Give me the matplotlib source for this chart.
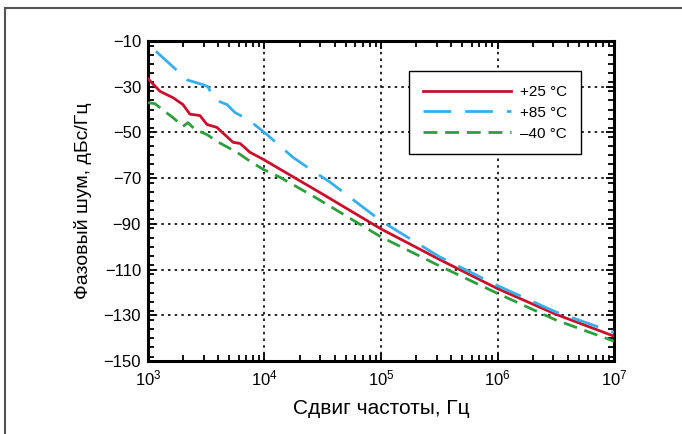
import matplotlib
matplotlib.use("Agg")
import matplotlib.pyplot as plt
from matplotlib.lines import Line2D
from matplotlib.ticker import LogLocator, MultipleLocator

plt.rcParams['font.family'] = ['Liberation Sans', 'DejaVu Sans']

# +25 °C
f_25 = [1000, 1268, 1640, 1995, 2290, 2793, 3206, 3906, 5370, 6170, 7520, 9710,
        31600, 100000, 316000, 1000000, 3160000, 10000000]
n_25 = [-26.5, -32, -34.8, -37.8, -42, -42.6, -46.5, -47.8, -54.3, -54.8, -58.7, -61.7,
        -77, -92.2, -105.5, -118.3, -129.5, -139.1]
# +85 °C
f_85 = [1170, 1640, 2163, 2965, 3275, 3500, 3760, 4766, 5580, 7210, 10500, 13060,
        17580, 24550, 36480, 100000, 316000, 1000000, 3160000, 10000000]
n_85 = [-14.5, -21.3, -27, -29.1, -30, -33, -35.7, -37.8, -41.3, -44.3, -50.9, -55.2,
        -60.9, -66, -71.7, -88.7, -104.3, -117, -128.5, -137.5]
# -40 °C
f_40 = [1000, 1148, 1400, 1640, 1995, 2203, 2530, 3206, 3906, 5808, 7520, 9710,
        13580, 26060, 100000, 316000, 1000000, 3160000, 10000000]
n_40 = [-37, -37.4, -40.9, -43.5, -47.4, -45.7, -48.7, -50.9, -53.9, -58.7, -62.6, -66.1,
        -69.6, -77.8, -95.7, -108.3, -120.4, -132, -141.3]

labels = ['+25 °C', '+85 °C', '–40 °C']
colors = ['#c8102e', '#3aaee8', '#2e9e3e']

fig = plt.figure(figsize=(6.82, 4.34), dpi=100)
ax = fig.add_axes([0.217, 0.168, 0.6833, 0.7375])

ax.plot(f_25, n_25, color=colors[0], lw=2.0, label=labels[0], zorder=3)
ax.plot(f_85, n_85, color=colors[1], lw=2.0, ls=(0, (10, 5)), label=labels[1], zorder=3)
ax.plot(f_40, n_40, color=colors[2], lw=2.0, ls=(0, (5, 2.8)), label=labels[2], zorder=3)

ax.set_xscale('log')
ax.set_xlim(1e3, 1e7)
ax.set_ylim(-150, -10)
ax.yaxis.set_major_locator(MultipleLocator(20))
ax.yaxis.set_minor_locator(MultipleLocator(4))
ax.xaxis.set_major_locator(LogLocator(base=10, numticks=10))
ax.xaxis.set_minor_locator(LogLocator(base=10, subs=range(2, 10), numticks=20))
ax.set_yticks(range(-150, -9, 20))

ax.grid(True, which='major', color='black', ls=(0, (1.5, 2.5)), lw=1.2)
ax.tick_params(which='both', direction='in', top=True, right=True, labelsize=12, width=1.3, pad=5)
ax.tick_params(which='major', length=6)
ax.tick_params(which='minor', length=4)
for s in ax.spines.values():
    s.set_linewidth(2.2)

ax.set_xlabel('Сдвиг частоты, Гц', fontsize=15, labelpad=8)
ax.set_ylabel('Фазовый шум, дБс/Гц', fontsize=14, labelpad=8)

leg = ax.legend(loc='upper left', bbox_to_anchor=(0.56, 0.906), borderaxespad=0,
                fontsize=11, handlelength=5.8, handletextpad=0.6, labelspacing=0.45,
                fancybox=False, framealpha=1, edgecolor='black', borderpad=0.9)
leg.get_frame().set_linewidth(1.0)

# outer frame of the picture
fig.add_artist(Line2D([0.007, 0.007], [0, 0.982], transform=fig.transFigure, color='#555555', lw=1.5))
fig.add_artist(Line2D([0.007, 1], [0.982, 0.982], transform=fig.transFigure, color='#555555', lw=1.5))

fig.savefig('out.png', dpi=100)
